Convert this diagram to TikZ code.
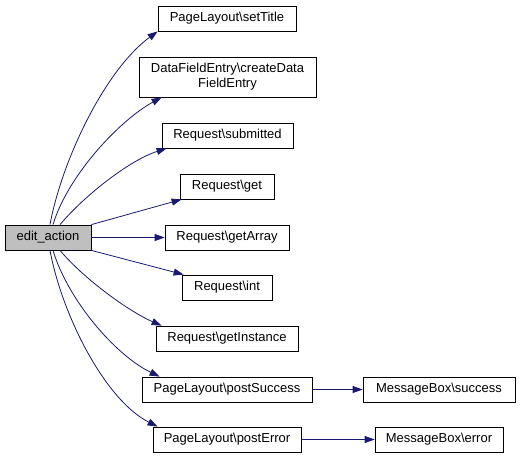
\documentclass[tikz,border=0pt]{standalone}
\usepackage{fontspec}
\setmainfont{Liberation Sans}
\usetikzlibrary{arrows.meta}
\definecolor{edgeblue}{HTML}{191970}
\definecolor{rootgray}{HTML}{BFBFBF}
\begin{document}
\begin{tikzpicture}[
                x = 1pt, y = -1pt,
                fn/.style = {draw, line width = 0.8pt, minimum height = 25, inner sep = 0mm,
                             font = \fontsize{13}{15}\selectfont, align = center},
                root/.style = {fn, fill = rootgray},
                arr/.style = {draw, edgeblue, line width = 0.8pt,
                              -{Triangle[length = 10pt, width = 7pt]}},
            ]
            \useasboundingbox (0, 0) rectangle (520, 459);

            \node (ea) at (48, 237.5) [root, minimum width = 86] {edit\_action};

            \node (st) at (227, 18.5) [fn, minimum width = 138] {PageLayout\textbackslash setTitle};
            \node (df) at (227.5, 77) [fn, minimum width = 177, minimum height = 40]
                {DataFieldEntry\textbackslash createData\\FieldEntry};
            \node (sub) at (227.5, 135.5) [fn, minimum width = 131] {Request\textbackslash submitted};
            \node (get) at (227, 186.5) [fn, minimum width = 94] {Request\textbackslash get};
            \node (ga) at (227, 237.5) [fn, minimum width = 124] {Request\textbackslash getArray};
            \node (int) at (227, 287.5) [fn, minimum width = 90] {Request\textbackslash int};
            \node (gi) at (227, 338.5) [fn, minimum width = 142] {Request\textbackslash getInstance};
            \node (ps) at (227, 389.5) [fn, minimum width = 170] {PageLayout\textbackslash postSuccess};
            \node (pe) at (227, 439.5) [fn, minimum width = 148] {PageLayout\textbackslash postError};

            \node (mbs) at (439, 389.5) [fn, minimum width = 152] {MessageBox\textbackslash success};
            \node (mbe) at (439, 439.5) [fn, minimum width = 128] {MessageBox\textbackslash error};

            \path[arr] ([xshift = 2]ea.north) .. controls (62, 160) and (105, 70) .. (st.south west);
            \path[arr] ([xshift = 5]ea.north) .. controls (68, 175) and (120, 120) .. ([xshift = 23]df.south west);
            \path[arr] ([xshift = 12]ea.north) .. controls (85, 195) and (130, 160) .. ([xshift = 5]sub.south west);
            \path[arr] (ea.north east) -- ([xshift = 2]get.south west);
            \path[arr] (ea.east) -- (ga.west);
            \path[arr] (ea.south east) -- ([xshift = 2]int.north west);
            \path[arr] ([xshift = 12]ea.south) .. controls (85, 280) and (130, 312) .. ([xshift = 6]gi.north west);
            \path[arr] ([xshift = 5]ea.south) .. controls (68, 300) and (115, 355) .. ([xshift = 18]ps.north west);
            \path[arr] ([xshift = 2]ea.south) .. controls (62, 315) and (105, 400) .. ([xshift = 5]pe.north west);
            \path[arr] (ps.east) -- (mbs.west);
            \path[arr] (pe.east) -- (mbe.west);
        \end{tikzpicture}
\end{document}
